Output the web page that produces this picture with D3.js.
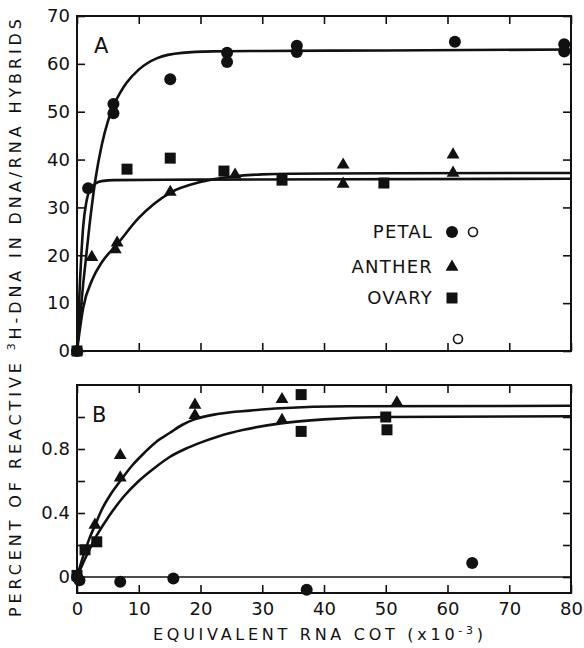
<!DOCTYPE html>
<html>
<head>
<meta charset="utf-8">
<script src="https://cdn.jsdelivr.net/npm/d3@7"></script>
<style>
  body { margin: 0; background: #fff; }
  svg { display: block; }
  .tick text { font-family: "DejaVu Sans", sans-serif; font-size: 18px; fill: #111; }
  .tick line { stroke: #111; stroke-width: 1.6; }
  .frame { fill: none; stroke: #111; stroke-width: 2; }
  .curve { fill: none; stroke: #111; stroke-width: 2.6; }
  .lbl { font-family: "DejaVu Sans", sans-serif; fill: #111; }
</style>
</head>
<body>
<svg id="chart" width="584" height="648"></svg>
<script>
// ---- panel A : reactive 3H-DNA (%) vs equivalent RNA Cot (x10^-3)
var petalA = [[0, 0], [1.8, 34], [5.9, 51.6], [5.9, 49.7], [15.1, 56.8], [24.3, 62.3], [24.3, 60.4],
  [35.6, 63.8], [35.6, 62.5], [61.2, 64.6], [78.9, 64.1], [78.9, 62.6]];
var petalOpenA = [[61.7, 2.5]];
var antherA = [[0, 0], [2.4, 19.6], [6.5, 22.6], [6.2, 21.2], [15.1, 33.2], [25.6, 36.8],
  [43.1, 38.9], [43.1, 34.9], [60.9, 41.0], [60.9, 37.2]];
var ovaryA = [[0, 0], [8.1, 38.0], [15.1, 40.3], [23.8, 37.6], [33.2, 35.7], [49.7, 35.1]];

// fitted curves as drawn in the figure
var petalCurveA = [[0, 0], [1, 14], [2, 26], [3, 36], [4, 43], [5, 48], [6, 51.5], [7, 54], [8, 56],
  [10, 58.8], [13, 61.2], [17, 62.3], [22, 62.6], [30, 62.7], [50, 62.8], [80, 63]];
var antherCurveA = [[0, 0], [1, 9], [2.5, 15], [4, 18.5], [6.5, 22.3], [10, 27.8], [15, 33], [20, 35.3],
  [25, 36.4], [30, 36.9], [40, 37.1], [80, 37.2]];
var ovaryCurveA = [[0, 0], [0.5, 15], [1, 26], [1.5, 31], [2, 33.5], [3, 35], [4, 35.5], [6, 35.7],
  [20, 35.8], [80, 36.0]];

// ---- panel B : fraction
var petalB = [[0, 0], [0.4, -0.02], [7.0, -0.03], [15.6, -0.01], [37.2, -0.08], [64, 0.088]];
var antherB = [[2.9, 0.325], [7.0, 0.76], [7.0, 0.62], [19.1, 1.075], [19.1, 1.01], [33.2, 1.11],
  [33.2, 0.98], [51.8, 1.09]];
var ovaryB = [[0, 0.01], [1.3, 0.17], [3.2, 0.22], [36.3, 1.14], [36.3, 0.91], [50, 1.0], [50.2, 0.92]];

var upperCurveB = [[0, 0], [1, 0.13], [2, 0.24], [3, 0.33], [4, 0.42], [5.5, 0.52], [7, 0.6], [9, 0.7],
  [11, 0.78], [13, 0.85], [15, 0.9], [17, 0.95], [19, 0.985], [23, 1.02], [28, 1.04], [33, 1.055],
  [44, 1.067], [80, 1.07]];
var lowerCurveB = [[0, 0], [1.5, 0.13], [3.2, 0.26], [5, 0.37], [7.5, 0.5], [10, 0.6], [12.5, 0.68],
  [15, 0.75], [17.5, 0.8], [20, 0.84], [23, 0.88], [27, 0.92], [33, 0.96], [40, 0.985], [50, 1.0],
  [80, 1.005]];

var xTicks = [0, 10, 20, 30, 40, 50, 60, 70, 80];
var yTicksA = [0, 10, 20, 30, 40, 50, 60, 70];
var yTicksB = [0, 0.2, 0.4, 0.6, 0.8, 1.0];
var yLabelsB = [0, 0.4, 0.8];

var legendItems = ["PETAL", "ANTHER", "OVARY"];

(function () {
  var svg = d3.select("#chart");
  var left = 77, right = 571;

  var x = d3.scaleLinear().domain([0, 80]).range([left, right]);
  var yA = d3.scaleLinear().domain([0, 70]).range([351, 16]);
  var yB = d3.scaleLinear().domain([-0.1, 1.2]).range([593, 385]);

  var tick = 8;

  function frame(y) {
    var r = y.range();
    svg.append("rect").attr("class", "frame")
      .attr("x", left).attr("y", r[1])
      .attr("width", right - left).attr("height", r[0] - r[1]);
  }

  function noDomain(g) { g.select(".domain").remove(); }

  // panel A axes
  svg.append("g").attr("transform", "translate(" + left + ",0)")
    .call(d3.axisLeft(yA).tickValues(yTicksA).tickSize(-tick).tickPadding(7)).call(noDomain);
  svg.append("g").attr("transform", "translate(" + right + ",0)")
    .call(d3.axisRight(yA).tickValues(yTicksA).tickSize(-tick).tickFormat("")).call(noDomain);
  svg.append("g").attr("transform", "translate(0," + yA(70) + ")")
    .call(d3.axisTop(x).tickValues(xTicks).tickSize(-tick).tickFormat("")).call(noDomain);
  svg.append("g").attr("transform", "translate(0," + yA(0) + ")")
    .call(d3.axisBottom(x).tickValues(xTicks).tickSize(-tick).tickFormat("")).call(noDomain);
  frame(yA);

  // panel B axes
  svg.append("g").attr("transform", "translate(" + left + ",0)")
    .call(d3.axisLeft(yB).tickValues(yTicksB).tickSize(-tick).tickPadding(7)
      .tickFormat(function (d) { return yLabelsB.indexOf(d) >= 0 ? (d === 0 ? "0" : d3.format(".1f")(d)) : ""; }))
    .call(noDomain);
  svg.append("g").attr("transform", "translate(" + right + ",0)")
    .call(d3.axisRight(yB).tickValues(yTicksB).tickSize(-tick).tickFormat("")).call(noDomain);
  svg.append("g").attr("transform", "translate(0," + yB(1.2) + ")")
    .call(d3.axisTop(x).tickValues(xTicks).tickSize(-tick).tickFormat("")).call(noDomain);
  svg.append("g").attr("transform", "translate(0," + yB(-0.1) + ")")
    .call(d3.axisBottom(x).tickValues(xTicks).tickSize(-tick).tickPadding(9)).call(noDomain);
  frame(yB);

  // zero line in panel B
  svg.append("line")
    .attr("x1", left).attr("x2", right)
    .attr("y1", yB(0)).attr("y2", yB(0))
    .style("stroke", "#111").style("stroke-width", 1.6);

  // curves
  function curve(data, y) {
    var line = d3.line().curve(d3.curveMonotoneX)
      .x(function (d) { return x(d[0]); })
      .y(function (d) { return y(d[1]); });
    svg.append("path").attr("class", "curve").attr("d", line(data));
  }
  curve(petalCurveA, yA);
  curve(antherCurveA, yA);
  curve(ovaryCurveA, yA);
  curve(upperCurveB, yB);
  curve(lowerCurveB, yB);

  // markers
  var tri = d3.symbol().type(d3.symbolTriangle).size(72);
  var sq = d3.symbol().type(d3.symbolSquare).size(121);

  function dots(data, y) {
    svg.append("g").selectAll("circle").data(data).enter().append("circle")
      .attr("cx", function (d) { return x(d[0]); })
      .attr("cy", function (d) { return y(d[1]); })
      .attr("r", 6).style("fill", "#111");
  }
  function openDots(data, y) {
    svg.append("g").selectAll("circle").data(data).enter().append("circle")
      .attr("cx", function (d) { return x(d[0]); })
      .attr("cy", function (d) { return y(d[1]); })
      .attr("r", 4.5).style("fill", "#fff").style("stroke", "#111").style("stroke-width", 1.6);
  }
  function symbols(data, y, gen) {
    svg.append("g").selectAll("path").data(data).enter().append("path")
      .attr("d", gen)
      .attr("transform", function (d) { return "translate(" + x(d[0]) + "," + y(d[1]) + ")"; })
      .style("fill", "#111");
  }

  dots(petalA, yA);
  openDots(petalOpenA, yA);
  symbols(antherA, yA, tri);
  symbols(ovaryA, yA, sq);

  dots(petalB, yB);
  symbols(antherB, yB, tri);
  symbols(ovaryB, yB, sq);

  // panel letters
  svg.append("text").attr("class", "lbl").attr("x", 94).attr("y", 53)
    .style("font-size", "21px").text("A");
  svg.append("text").attr("class", "lbl").attr("x", 92).attr("y", 422)
    .style("font-size", "21px").text("B");

  // legend
  var legY = [232, 267, 298];
  var lg = svg.append("g");
  lg.selectAll("text").data(legendItems).enter().append("text")
    .attr("class", "lbl")
    .attr("x", 433).attr("y", function (d, i) { return legY[i]; })
    .attr("dy", "0.36em")
    .attr("text-anchor", "end")
    .style("font-size", "18px").style("letter-spacing", "1.2px")
    .text(function (d) { return d; });
  lg.append("circle").attr("cx", 452).attr("cy", legY[0]).attr("r", 6).style("fill", "#111");
  lg.append("circle").attr("cx", 473).attr("cy", legY[0]).attr("r", 4.5)
    .style("fill", "#fff").style("stroke", "#111").style("stroke-width", 1.6);
  lg.append("path").attr("d", tri).attr("transform", "translate(452," + legY[1] + ")").style("fill", "#111");
  lg.append("path").attr("d", sq).attr("transform", "translate(452," + legY[2] + ")").style("fill", "#111");

  // axis titles
  svg.append("text").attr("class", "lbl")
    .attr("x", 318).attr("y", 640)
    .attr("text-anchor", "middle")
    .style("font-size", "16px")
    .attr("textLength", 330).attr("lengthAdjust", "spacing")
    .html('EQUIVALENT RNA COT (x10<tspan dy="-6" style="font-size:11px">-3</tspan><tspan dy="6">)</tspan>');

  svg.append("text").attr("class", "lbl")
    .attr("transform", "translate(21,318) rotate(-90)")
    .attr("text-anchor", "middle")
    .style("font-size", "16px")
    .attr("textLength", 598).attr("lengthAdjust", "spacing")
    .html('PERCENT OF REACTIVE <tspan dy="-6" style="font-size:11px">3</tspan><tspan dy="6">H-DNA IN DNA/RNA HYBRIDS</tspan>');
})();
</script>
</body>
</html>
